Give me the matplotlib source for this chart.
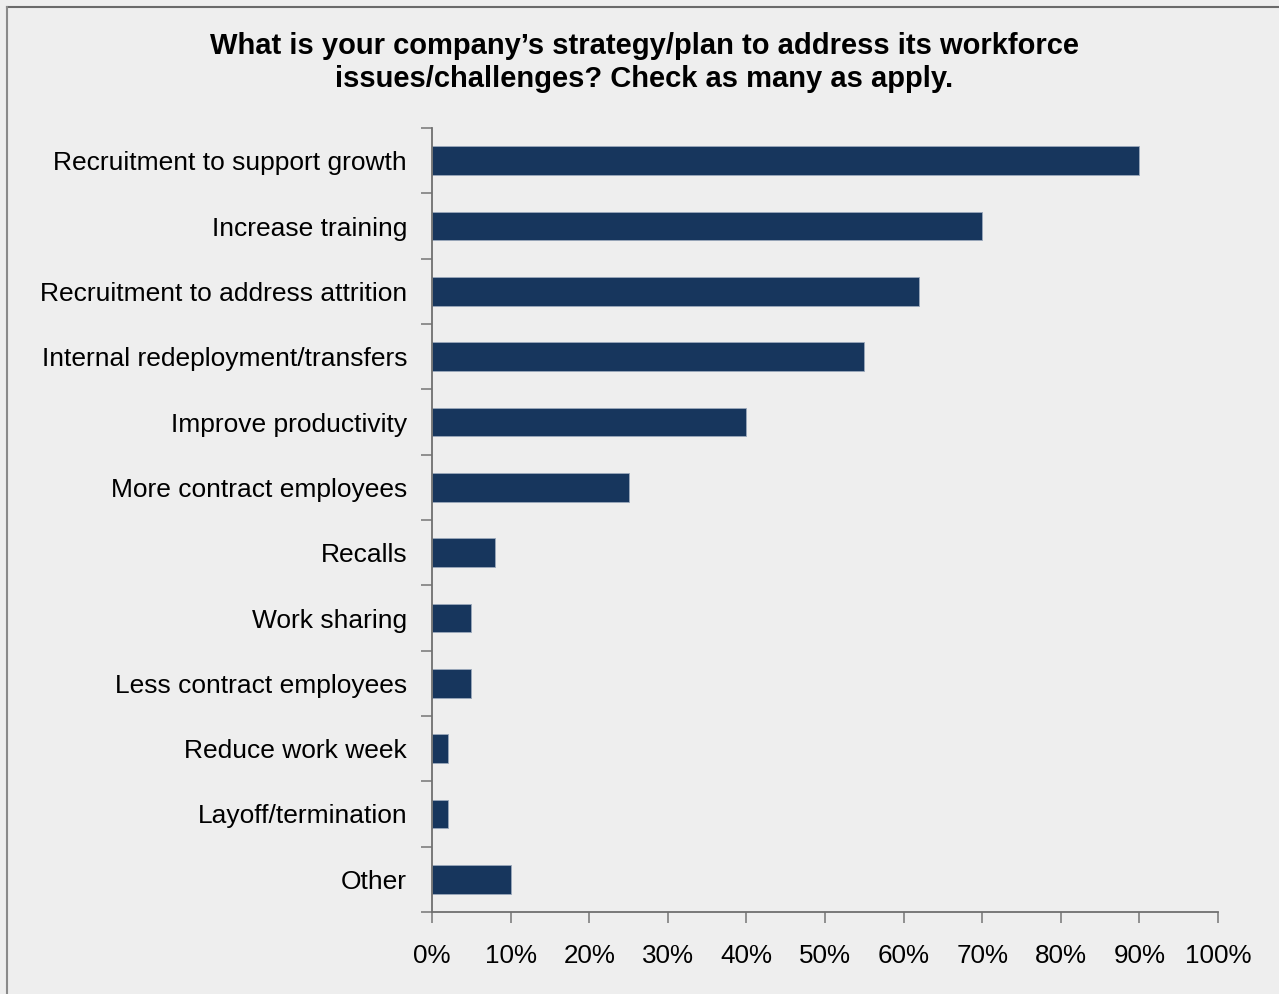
import numpy as np
import matplotlib.pyplot as plt
from matplotlib.lines import Line2D

plt.rcParams['font.family'] = ['Liberation Sans', 'DejaVu Sans']

# Survey responses, share of companies (%)
categories = [
    'Recruitment to support growth',
    'Increase training',
    'Recruitment to address attrition',
    'Internal redeployment/transfers',
    'Improve productivity',
    'More contract employees',
    'Recalls',
    'Work sharing',
    'Less contract employees',
    'Reduce work week',
    'Layoff/termination',
    'Other',
]
shares = [90, 70, 62, 55, 40, 25, 8, 5, 5, 2, 2, 10]
x_ticks = [0, 10, 20, 30, 40, 50, 60, 70, 80, 90, 100]

bg = '#eeeeee'
bar_color = '#17365d'
axis_color = '#7f7f7f'

fig = plt.figure(figsize=(12.79, 9.94), dpi=100, facecolor=bg)
ax = fig.add_axes([0.3378, 0.0825, 0.9523 - 0.3378, 0.8712 - 0.0825])
ax.set_facecolor(bg)

ypos = np.arange(len(categories))
ax.barh(ypos, shares, height=0.44, color=bar_color, edgecolor='#9aa8bb', linewidth=0.6)

ax.set_xlim(0, 100)
ax.set_ylim(len(categories) - 0.5, -0.5)

# x axis: percent labels
ax.set_xticks(x_ticks)
ax.set_xticklabels([f'{v}%' for v in x_ticks], fontsize=18.7)
ax.tick_params(axis='x', direction='out', length=8, width=1.2, color=axis_color, pad=15)

# y axis: tick marks between categories, labels centred on bars
ax.set_yticks(np.arange(-0.5, len(categories)), labels=[])
ax.set_yticks(ypos, labels=categories, minor=True)
ax.tick_params(axis='y', which='major', direction='out', length=8, width=1.2, color=axis_color)
ax.tick_params(axis='y', which='minor', length=0, pad=18, labelsize=19)

for side in ('top', 'right'):
    ax.spines[side].set_visible(False)
for side in ('left', 'bottom'):
    ax.spines[side].set_color('#6f6f6f')
    ax.spines[side].set_linewidth(1.3)

fig.text(0.504, 0.937,
         'What is your company\u2019s strategy/plan to address its workforce\nissues/challenges? Check as many as apply.',
         ha='center', va='center', fontsize=21, fontweight='bold', linespacing=1.22)

# frame edges along top and left
fig.add_artist(Line2D([0.0055, 1.0], [0.993, 0.993], transform=fig.transFigure, color='#6a6a6a', linewidth=1.5))
fig.add_artist(Line2D([0.0055, 0.0055], [0.0, 0.993], transform=fig.transFigure, color='#8a8a8a', linewidth=1.5))

fig.savefig('out.png', dpi=100, facecolor=bg)
